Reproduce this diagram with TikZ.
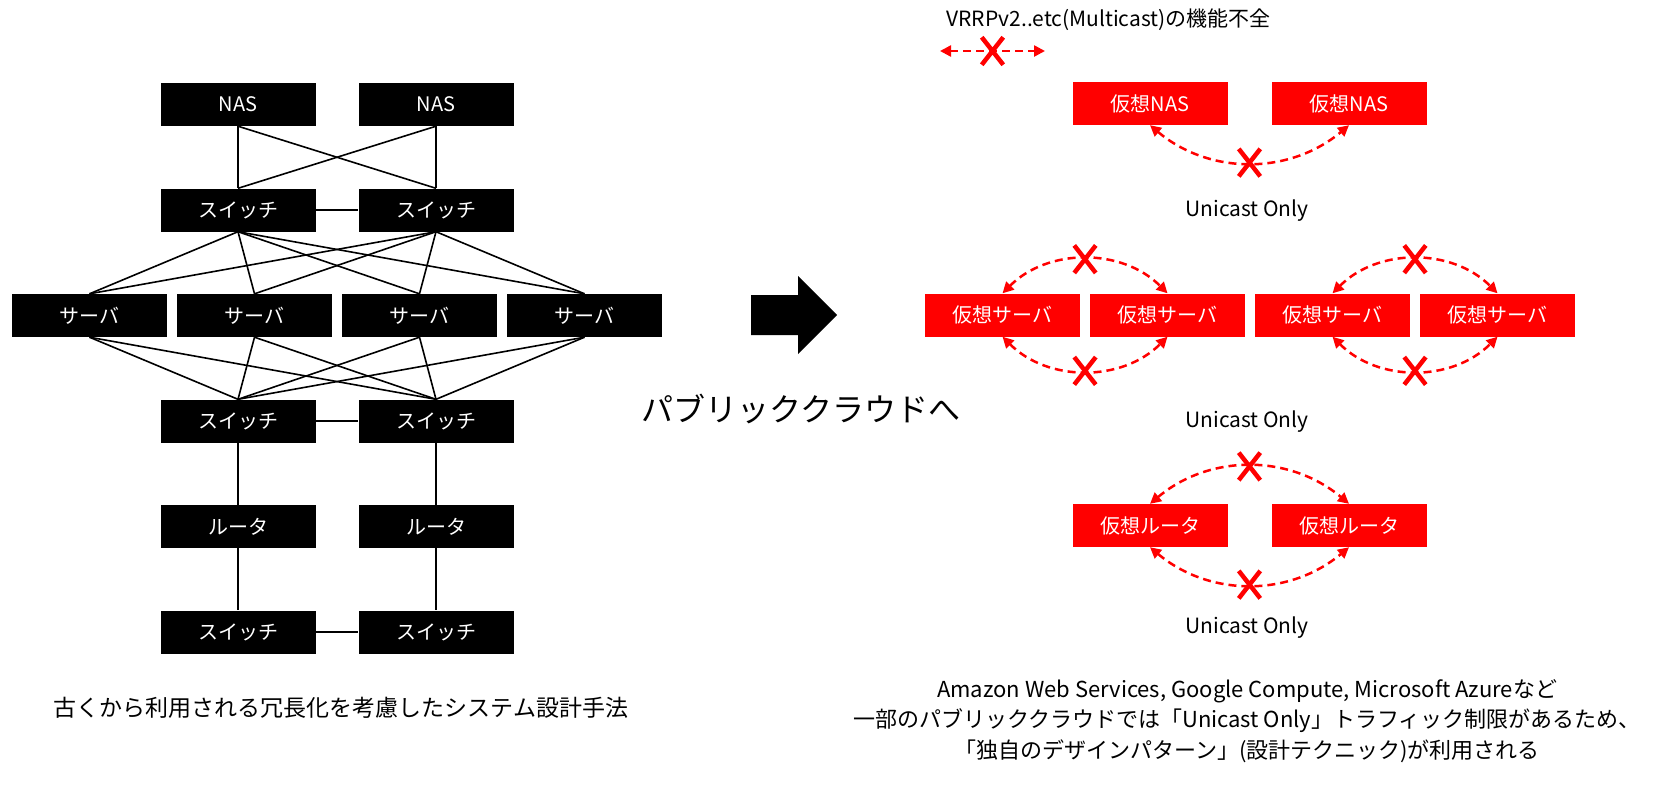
\documentclass[tikz,border=0pt]{standalone}
\usepackage{fontspec}
\setmainfont{Noto Sans CJK JP}
\usetikzlibrary{arrows.meta,shapes.misc}

\begin{document}
\begin{tikzpicture}[x=1pt,y=-1pt,
    box/.style={fill=black,text=white,minimum width=155pt,minimum height=43pt,inner sep=0pt,
      font=\fontsize{20}{24}\selectfont},
    vbox/.style={box,fill=red},
    wire/.style={line width=1.6pt},
    vlink/.style={red,line width=2.5pt,dash pattern=on 8pt off 5pt,
      {Triangle[length=11pt,width=11pt]}-{Triangle[length=11pt,width=11pt]}},
    xmark/.style={cross out,draw=red,solid,line width=4.5pt,minimum width=17pt,minimum height=23pt,inner sep=0pt},
    note/.style={font=\fontsize{21}{25}\selectfont}]
    \useasboundingbox (0,0) rectangle (1673,796);

    \foreach \i/\x in {1/238,2/436} {
      \node[box] (nas\i) at (\x,104.5) {NAS};
      \node[box] (swa\i) at (\x,210) {スイッチ};
      \node[box] (swb\i) at (\x,421) {スイッチ};
      \node[box] (rt\i) at (\x,526.5) {ルータ};
      \node[box] (swc\i) at (\x,632) {スイッチ};
    }
    \foreach \i in {1,...,4}
      \node[box] (srv\i) at (-75.5+165*\i,315.5) {サーバ};

    \foreach \i in {1,2} {
      \foreach \j in {1,2}
        \draw[wire] (nas\i.south) -- (swa\j.north);
      \foreach \k in {1,...,4} {
        \draw[wire] (swa\i.south) -- (srv\k.north);
        \draw[wire] (srv\k.south) -- (swb\i.north);
      }
      \draw[wire] (swb\i) -- (rt\i);
      \draw[wire] (rt\i) -- (swc\i);
    }
    \foreach \row in {swa,swb,swc}
      \draw[wire] (\row1) -- (\row2);

    \node[font=\fontsize{23}{27}\selectfont] (oldcap) at (341,708) {古くから利用される冗長化を考慮したシステム設計手法};

    \fill (751,295) -- (798,295) -- (798,276) -- (837,315) -- (798,354) -- (798,335) -- (751,335) -- cycle;
    \node[font=\fontsize{32}{38}\selectfont] (tocloud) at (801,409) {パブリッククラウドへ};

    \node[note,anchor=west] (legend) at (943,20) {VRRPv2..etc(Multicast)の機能不全};
    \coordinate (lega) at (940,51);
    \coordinate (legb) at (1045,51);
    \draw[vlink] (lega) -- node[xmark]{} (legb);

    \foreach \i/\x in {1/1150,2/1349} {
      \node[vbox] (vnas\i) at (\x,103.5) {仮想NAS};
      \node[vbox] (vrt\i) at (\x,525.5) {仮想ルータ};
    }
    \foreach \i in {1,...,4}
      \node[vbox] (vsrv\i) at (837.5+165*\i,315) {仮想サーバ};

    \draw[vlink] (vnas1.south) to[bend right=40] node[xmark]{} (vnas2.south);
    \foreach \i/\j in {1/2,3/4} {
      \draw[vlink] (vsrv\i.north) to[bend left=45] node[xmark]{} (vsrv\j.north);
      \draw[vlink] (vsrv\i.south) to[bend right=45] node[xmark]{} (vsrv\j.south);
    }
    \draw[vlink] (vrt1.north) to[bend left=40] node[xmark]{} (vrt2.north);
    \draw[vlink] (vrt1.south) to[bend right=40] node[xmark]{} (vrt2.south);

    \node[note] (uc1) at (1247,211) {Unicast Only};
    \node[note] (uc2) at (1247,422) {Unicast Only};
    \node[note] (uc3) at (1247,628) {Unicast Only};

    \node[align=center,font=\fontsize{22}{30.5}\selectfont] (newcap) at (1247,721)
      {Amazon Web Services, Google Compute, Microsoft Azureなど\\
       一部のパブリッククラウドでは「Unicast Only」トラフィック制限があるため、\\
       「独自のデザインパターン」(設計テクニック)が利用される};
  \end{tikzpicture}
\end{document}
